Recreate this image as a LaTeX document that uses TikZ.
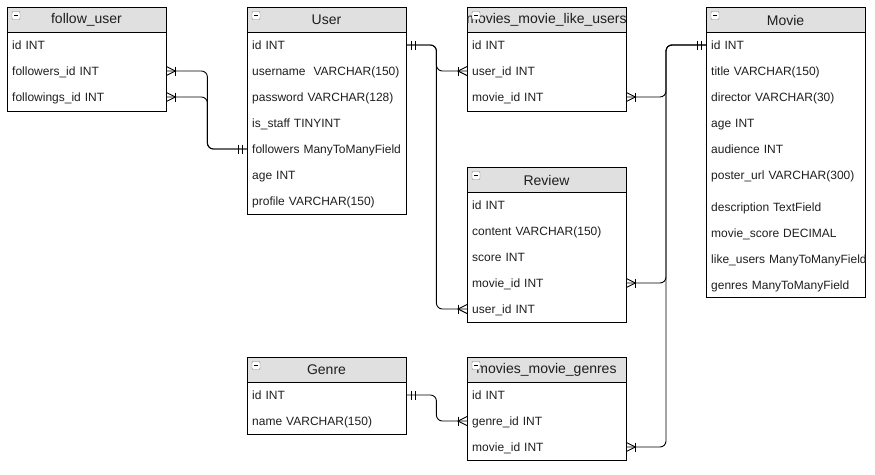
\documentclass[tikz,border=0pt]{standalone}
\usepackage{fontspec}
\setmainfont{Liberation Sans}
\usetikzlibrary{calc}

\definecolor{headgray}{HTML}{E0E0E0}
\definecolor{txtgray}{HTML}{1E1E1E}

\tikzset{
  headtxt/.style={font=\fontsize{14}{16}\selectfont, text=txtgray, inner sep=0pt},
  row/.style={anchor=west, text width=149pt, inner xsep=5pt, inner ysep=0pt, align=left,
    text height=10.6pt, text depth=2pt, minimum height=26pt,
    font=\fontsize{12}{14}\selectfont, text=txtgray},
  link/.style={line width=0.9pt, rounded corners=6pt},
  endmark/.style={line width=0.9pt}
}

% table frame: name, x, y, title, bottom
\newcommand{\ertable}[5]{%
  \filldraw[line width=0.9pt, fill=headgray] (#2,#3) rectangle (#2+159,#3+25);
  \draw[line width=0.9pt] (#2,#3+25) rectangle (#2+159,#5);
  \node[headtxt] (#1) at (#2+79.5,#3+13) {#4};
  \filldraw[draw=gray, fill=white, rounded corners=1pt] (#2+5,#3+4.5) rectangle (#2+13,#3+12.5);
  \draw[line width=0.8pt] (#2+6.8,#3+8.5) -- (#2+11.2,#3+8.5);
}
% crow's foot (many), #2 = 1 to the right, -1 to the left
\newcommand{\manymark}[2]{%
  \draw[endmark] ([yshift=4.5pt]#1) -- ([xshift=#2*9pt]#1) -- ([yshift=-4.5pt]#1);
  \draw[endmark] ([xshift=#2*9pt,yshift=4.5pt]#1) -- ([xshift=#2*9pt,yshift=-4.5pt]#1);
}
% double bar (exactly one)
\newcommand{\onemark}[2]{%
  \draw[endmark] ([xshift=#2*5pt,yshift=4.5pt]#1) -- ([xshift=#2*5pt,yshift=-4.5pt]#1);
  \draw[endmark] ([xshift=#2*9pt,yshift=4.5pt]#1) -- ([xshift=#2*9pt,yshift=-4.5pt]#1);
}

\begin{document}
\begin{tikzpicture}[x=1pt, y=-1pt]
  \useasboundingbox (0,0) rectangle (875,474);

  % follow_user
  \ertable{fu}{7}{7}{follow\_user}{111}
  \node[row] (fu-id) at (7,45) {id INT};
  \node[row] (fu-followers) at (7,71) {followers\_id INT};
  \node[row] (fu-followings) at (7,97) {followings\_id INT};

  % User
  \ertable{user}{247}{7}{User}{214}
  \node[row] (user-id) at (247,45) {id INT};
  \node[row] (user-name) at (247,71) {username\ \ VARCHAR(150)};
  \node[row] (user-pw) at (247,97) {password VARCHAR(128)};
  \node[row] (user-staff) at (247,123) {is\_staff TINYINT};
  \node[row] (user-followers) at (247,149) {followers ManyToManyField};
  \node[row] (user-age) at (247,175) {age INT};
  \node[row] (user-profile) at (247,201) {profile VARCHAR(150)};

  % movies_movie_like_users
  \ertable{like}{467}{7}{movies\_movie\_like\_users}{111}
  \node[row] (like-id) at (467,45) {id INT};
  \node[row] (like-user) at (467,71) {user\_id INT};
  \node[row] (like-movie) at (467,97) {movie\_id INT};

  % Movie (last long row is cut at the frame)
  \ertable{movie}{706}{7}{Movie}{297}
  \begin{scope}
    \clip (706,32) rectangle (865,297);
    \node[row] (movie-id) at (706,45) {id INT};
    \node[row] (movie-title) at (706,71) {title VARCHAR(150)};
    \node[row] (movie-director) at (706,97) {director VARCHAR(30)};
    \node[row] (movie-age) at (706,123) {age INT};
    \node[row] (movie-audience) at (706,149) {audience INT};
    \node[row] (movie-poster) at (706,175) {poster\_url VARCHAR(300)};
    \node[row] (movie-desc) at (706,207) {description TextField};
    \node[row] (movie-score) at (706,233) {movie\_score DECIMAL};
    \node[row] (movie-like) at (706,259) {\mbox{like\_users ManyToManyField}};
    \node[row] (movie-genres) at (706,285) {genres ManyToManyField};
  \end{scope}

  % Review
  \ertable{review}{467}{167}{Review}{322}
  \node[row] (review-id) at (467,205) {id INT};
  \node[row] (review-content) at (467,231) {content VARCHAR(150)};
  \node[row] (review-score) at (467,257) {score INT};
  \node[row] (review-movie) at (467,283) {movie\_id INT};
  \node[row] (review-user) at (467,309) {user\_id INT};

  % Genre
  \ertable{genre}{247}{357}{Genre}{434}
  \node[row] (genre-id) at (247,395) {id INT};
  \node[row] (genre-name) at (247,421) {name VARCHAR(150)};

  % movies_movie_genres
  \ertable{mg}{467}{357}{movies\_movie\_genres}{460}
  \node[row] (mg-id) at (467,395) {id INT};
  \node[row] (mg-genre) at (467,421) {genre\_id INT};
  \node[row] (mg-movie) at (467,447) {movie\_id INT};

  % follow_user -> User
  \draw[link] (fu-followers.east) -- ++(41,0) |- (user-followers.west);
  \draw[link] (fu-followings.east) -- ++(41,0) |- (user-followers.west);
  \manymark{fu-followers.east}{1}
  \manymark{fu-followings.east}{1}
  \onemark{user-followers.west}{-1}

  % User -> like_users, Review
  \draw[link] (user-id.east) -- ++(30,0) |- (like-user.west);
  \draw[link] (user-id.east) -- ++(30,0) |- (review-user.west);
  \onemark{user-id.east}{1}
  \manymark{like-user.west}{-1}
  \manymark{review-user.west}{-1}

  % Movie -> like_users, Review, movie_genres
  \draw[link] (movie-id.west) -- ++(-40,0) |- (like-movie.east);
  \draw[link] (movie-id.west) -- ++(-40,0) |- (review-movie.east);
  \draw[link] (movie-id.west) -- ++(-40,0) |- (mg-movie.east);
  \onemark{movie-id.west}{-1}
  \manymark{like-movie.east}{1}
  \manymark{review-movie.east}{1}
  \manymark{mg-movie.east}{1}

  % Genre -> movie_genres
  \draw[link] (genre-id.east) -- ++(30,0) |- (mg-genre.west);
  \onemark{genre-id.east}{1}
  \manymark{mg-genre.west}{-1}

\end{tikzpicture}
\end{document}
